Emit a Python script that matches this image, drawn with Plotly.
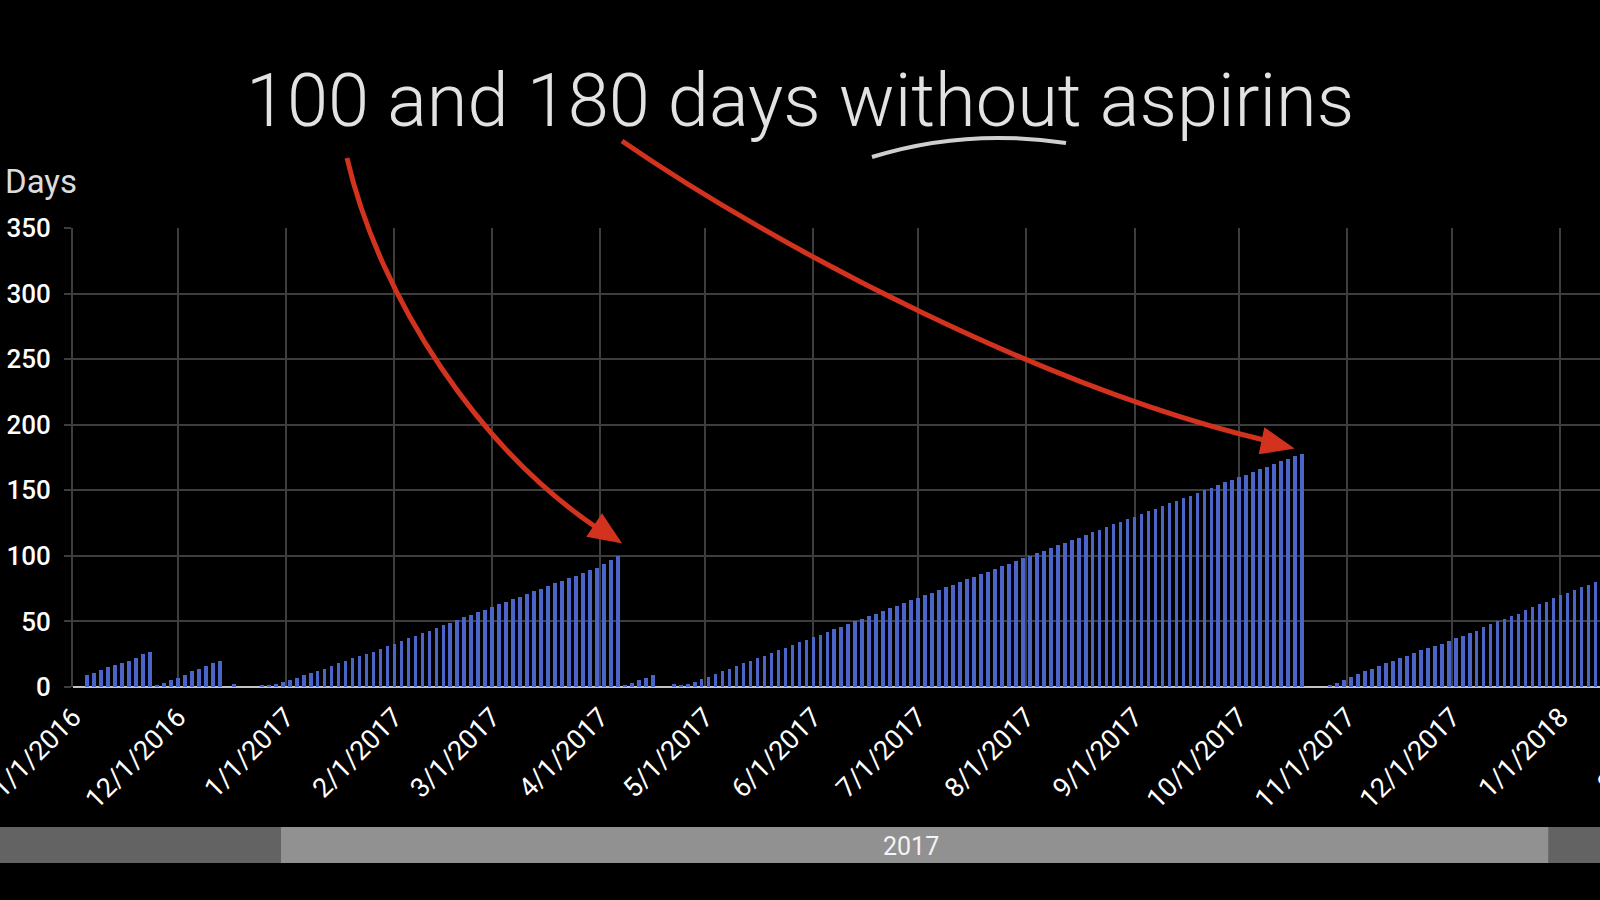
import pandas as pd
import plotly.graph_objects as go

# counter of days without aspirin, one bar every second day from first_day
first_day = "2016-11-05"
days_without = [
    9, 11, 13, 15, 17, 18, 20, 22, 25, 27,
    1, 3, 5, 7, 9, 12, 14, 16, 18, 20,
    0, 2, 0, 0, 0, 1, 1, 2, 4, 5,
    7, 9, 11, 12, 14, 16, 18, 20, 22, 24,
    25, 27, 29, 31, 33, 35, 37, 39, 41, 43,
    45, 47, 49, 51, 53, 55, 57, 59, 61, 63,
    65, 67, 69, 71, 73, 75, 77, 79, 81, 83,
    85, 87, 89, 91, 94, 97, 100, 1, 3, 5,
    7, 9, 0, 0, 2, 1, 2, 4, 6, 8,
    10, 12, 14, 16, 18, 20, 22, 24, 26, 28,
    30, 32, 34, 36, 38, 40, 42, 44, 46, 48,
    50, 52, 54, 56, 58, 60, 62, 64, 66, 68,
    70, 72, 74, 76, 78, 80, 82, 84, 86, 88,
    90, 92, 94, 96, 98, 100, 102, 104, 106, 108,
    110, 112, 114, 116, 118, 120, 122, 124, 126, 128,
    130, 132, 134, 136, 138, 140, 142, 144, 146, 148,
    150, 152, 154, 156, 158, 160, 162, 164, 166, 168,
    170, 172, 174, 176, 178, 0, 0, 0, 1, 3,
    5, 8, 10, 12, 14, 16, 18, 20, 22, 24,
    26, 28, 30, 31, 33, 35, 37, 39, 41, 43,
    46, 48, 50, 52, 54, 56, 59, 61, 63, 65,
    68, 70, 72, 74, 76, 78, 80,
]
dates = pd.date_range(first_day, periods=len(days_without), freq="2D")

x_range = ["2016-10-31 22:00", "2018-01-12 08:00"]
year_band = ["2016-12-30 12:00", "2017-12-28 12:00"]
title = "100 and 180 days without aspirins"
next_month_label = "2/1/2018"  # only its first character shows at the edge

W, H = 1600, 900
L, T, B = 73, 228, 213
PW, PH = W - L, H - T - B


def px(x, y):
    # pixel position on the slide -> paper coords
    return (x - L) / PW, (H - B - y) / PH


def pt(x, y):
    a, b = px(x, y)
    return f"{a:.5f},{b:.5f}"


def curve(p0, c1, c2, p3):
    return f"M{pt(*p0)} C{pt(*c1)} {pt(*c2)} {pt(*p3)}"


def tri(a, b, c):
    return f"M{pt(*a)} L{pt(*b)} L{pt(*c)} Z"


fig = go.Figure()
fig.add_trace(go.Bar(
    x=dates, y=days_without,
    width=1.05 * 86400000,
    marker=dict(color="#4a64c8", line=dict(width=0)),
    showlegend=False))

red = "#d2321e"
shapes = [
    # bottom year strip
    dict(type="rect", xref="paper", yref="paper",
         x0=px(-10, 0)[0], x1=px(1610, 0)[0], y0=px(0, 827)[1], y1=px(0, 863)[1],
         fillcolor="#636363", line=dict(width=0), layer="below"),
    dict(type="rect", xref="x", yref="paper",
         x0=year_band[0], x1=year_band[1], y0=px(0, 827)[1], y1=px(0, 863)[1],
         fillcolor="#919191", line=dict(width=0), layer="below"),
    # hand drawn arrows
    dict(type="path", xref="paper", yref="paper",
         path=curve((347, 158), (380, 300), (480, 450), (600, 530)),
         line=dict(color=red, width=5)),
    dict(type="path", xref="paper", yref="paper",
         path=tri((620, 542), (588, 536), (602, 515)),
         fillcolor=red, line=dict(color=red, width=2)),
    dict(type="path", xref="paper", yref="paper",
         path=curve((622, 141), (780, 250), (1050, 390), (1268, 441)),
         line=dict(color=red, width=5)),
    dict(type="path", xref="paper", yref="paper",
         path=tri((1292, 448), (1260, 453), (1265, 429)),
         fillcolor=red, line=dict(color=red, width=2)),
    # scribble under "without"
    dict(type="path", xref="paper", yref="paper",
         path=f"M{pt(872, 157)} Q{pt(965, 128)} {pt(1066, 143)}",
         line=dict(color="#cfcfcf", width=4)),
]

annotations = [
    dict(text=title, xref="paper", yref="paper",
         x=px(800, 0)[0], y=px(0, 101)[1], xanchor="center", yanchor="middle",
         showarrow=False,
         font=dict(family="Roboto", size=74, color="#e2e2e2", weight=300)),
    dict(text="Days", xref="paper", yref="paper",
         x=px(3, 0)[0], y=px(0, 181)[1], xanchor="left", yanchor="middle",
         showarrow=False,
         font=dict(family="Roboto", size=33, color="#dcdcdc")),
    dict(text="2017", xref="x", yref="paper",
         x="2017-06-29", y=px(0, 846)[1], xanchor="center", yanchor="middle",
         showarrow=False,
         font=dict(family="Roboto", size=25, color="#f4f4f4")),
    dict(text=next_month_label, xref="paper", yref="paper",
         x=px(1588, 0)[0], y=px(0, 694)[1], xanchor="left", yanchor="top",
         textangle=-45, showarrow=False,
         font=dict(family="Roboto", size=27, color="white")),
]

grid = "#3d3d3d"
fig.update_layout(
    width=W, height=H,
    margin=dict(l=L, r=0, t=T, b=B),
    paper_bgcolor="black", plot_bgcolor="black",
    bargap=0,
    shapes=shapes, annotations=annotations,
    xaxis=dict(
        type="date", range=x_range, automargin=False,
        tick0="2016-11-01", dtick="M1", tickformat="%-m/%-d/%Y",
        tickangle=-45, tickfont=dict(family="Roboto", size=27, color="white"),
        ticklabeloverflow="allow", ticklabelstandoff=8,
        showgrid=True, gridcolor=grid, gridwidth=2,
        ticks="", showline=False, zeroline=False),
    yaxis=dict(
        range=[0, 350], dtick=50, automargin=False,
        tickfont=dict(family="Roboto", size=26, color="white", weight=500),
        showgrid=True, gridcolor=grid, gridwidth=2,
        ticks="outside", ticklen=7, tickcolor=grid, tickwidth=2,
        ticklabelstandoff=8,
        showline=True, linecolor=grid, linewidth=2,
        zeroline=True, zerolinecolor="#c4c4c4", zerolinewidth=2),
)

fig.write_html("out.html", config={"displayModeBar": False},
               post_script="document.body.style.margin='0';")
